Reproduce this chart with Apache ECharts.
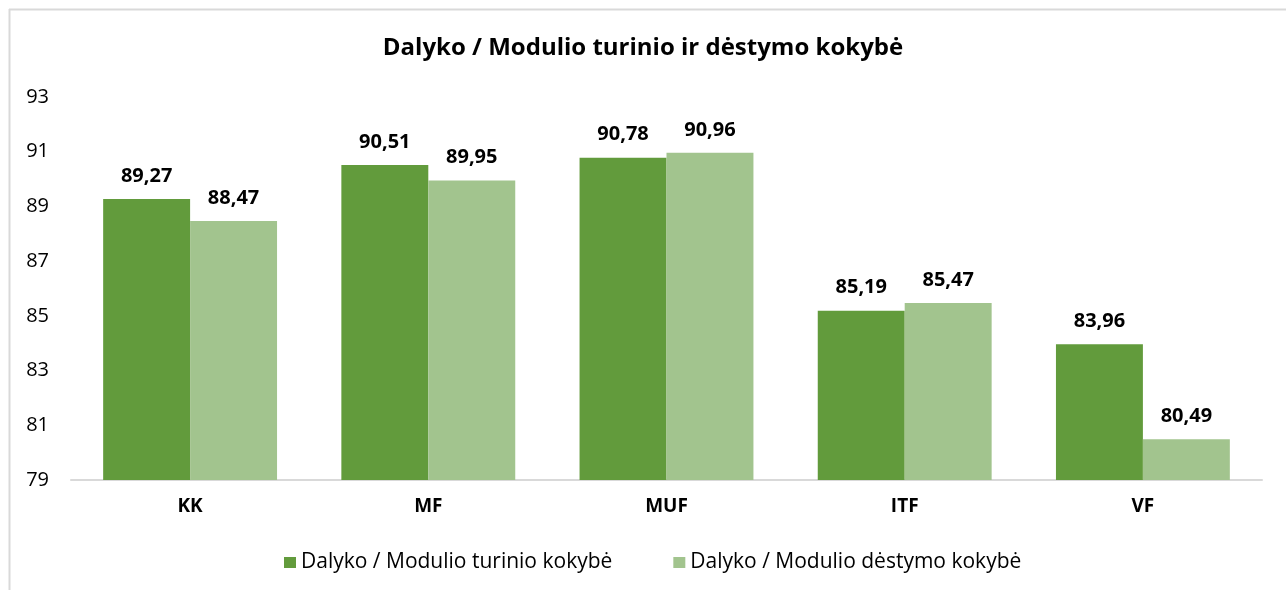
<!DOCTYPE html>
<html>
<head>
<meta charset="utf-8">
<script src="https://cdn.jsdelivr.net/npm/echarts@6/dist/echarts.min.js"></script>
<style>
html,body{margin:0;padding:0;background:#fff;}
#chart{width:1286px;height:590px;}
</style>
</head>
<body>
<div id="chart"></div>
<script>
const titleText = 'Dalyko / Modulio turinio ir dėstymo kokybė';
const categories = ['KK', 'MF', 'MUF', 'ITF', 'VF'];
const seriesNames = ['Dalyko / Modulio turinio kokybė', 'Dalyko / Modulio dėstymo kokybė'];
const turinioValues = [89.27, 90.51, 90.78, 85.19, 83.96];
const destymoValues = [88.47, 89.95, 90.96, 85.47, 80.49];
const yTicks = [79, 81, 83, 85, 87, 89, 91, 93];

const FONT = 'Open Sans';
const chart = echarts.init(document.getElementById('chart'));
const labelCfg = {
  show: true,
  position: 'top',
  distance: 13,
  fontFamily: FONT,
  fontSize: 20,
  fontWeight: 'bold',
  color: '#000',
  formatter: p => p.value.toFixed(2).replace('.', ',')
};
chart.setOption({
  backgroundColor: '#fff',
  animation: false,
  title: {
    text: titleText,
    left: 'center',
    top: 31,
    textStyle: { fontFamily: FONT, fontSize: 24, fontWeight: 'bold', color: '#000' }
  },
  legend: {
    data: seriesNames,
    top: 547,
    left: 279,
    itemWidth: 12,
    itemHeight: 11,
    itemGap: 61,
    icon: 'rect',
    textStyle: { fontFamily: FONT, fontSize: 21, color: '#000' }
  },
  grid: { left: 71, right: 24, top: 97, bottom: 110, containLabel: false },
  xAxis: {
    type: 'category',
    data: categories,
    axisLine: { lineStyle: { color: '#d9d9d9', width: 2 } },
    axisTick: { show: false },
    axisLabel: { fontFamily: FONT, fontSize: 19, fontWeight: 'bold', color: '#000', margin: 17 }
  },
  yAxis: {
    type: 'value',
    min: yTicks[0],
    max: yTicks[yTicks.length - 1],
    interval: 1,
    splitLine: { show: false },
    axisLine: { show: false },
    axisTick: { show: false },
    axisLabel: {
      fontFamily: FONT, fontSize: 20, color: '#000', margin: 22,
      formatter: v => yTicks.includes(v) ? String(v) : ''
    }
  },
  series: [
    {
      name: seriesNames[0], type: 'bar', data: turinioValues,
      barGap: '0%', barCategoryGap: '27%',
      itemStyle: { color: '#629b3c' },
      label: labelCfg
    },
    {
      name: seriesNames[1], type: 'bar', data: destymoValues,
      barGap: '0%', barCategoryGap: '27%',
      itemStyle: { color: '#a2c48e' },
      label: labelCfg
    }
  ],
  graphic: [
    { type: 'line', shape: { x1: 9, y1: 9.5, x2: 1286, y2: 9.5 }, style: { stroke: '#d9d9d9', lineWidth: 2 } },
    { type: 'line', shape: { x1: 9.5, y1: 9, x2: 9.5, y2: 590 }, style: { stroke: '#d9d9d9', lineWidth: 2 } }
  ]
});
</script>
</body>
</html>
